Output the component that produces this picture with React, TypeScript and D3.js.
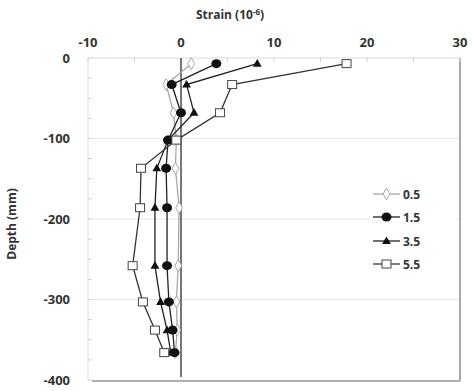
import React from "react";
import * as d3 from "d3";

// Depths of the gauge positions (mm) and strains per load level (10^-6)
const depths = [-7, -33, -68, -102, -137, -186, -258, -303, -338, -366];
const seriesNames = ["0.5", "1.5", "3.5", "5.5"];
const strain05 = [1.1, -1.6, -0.8, -0.5, -0.6, -0.2, -0.3, -0.5, -0.4, -0.6];
const strain15 = [3.8, -1.0, 0.0, -1.4, -1.6, -1.5, -1.5, -1.3, -0.9, -0.7];
const strain35 = [8.2, 0.6, 1.4, -1.4, -2.6, -2.8, -2.8, -2.2, -1.5, -1.1];
const strain55 = [17.8, 5.5, 4.2, -0.5, -4.3, -4.4, -5.2, -4.1, -2.8, -1.8];
const xTicks = [-10, 0, 10, 20, 30];
const yTicks = [0, -100, -200, -300, -400];

const W = 472;
const H = 391;
const plot = { left: 88, right: 460, top: 58, bottom: 380 };

const font = "'Open Sans', 'Liberation Sans', Arial, sans-serif";

function Marker({ kind, x, y, color }: { kind: string; x: number; y: number; color: string }) {
  if (kind === "diamond") {
    const p = d3.symbol(d3.symbolDiamond, 40)();
    return <path d={p || ""} transform={`translate(${x},${y})`} fill="#fff" stroke={color} strokeWidth={1} />;
  }
  if (kind === "circle") {
    return <ellipse cx={x} cy={y} rx={5} ry={4.5} fill="#111" />;
  }
  if (kind === "triangle") {
    const p = d3.symbol(d3.symbolTriangle, 34)();
    return <path d={p || ""} transform={`translate(${x},${y + 0.5})`} fill="#111" />;
  }
  return <rect x={x - 4.5} y={y - 4} width={9} height={8} fill="#fff" stroke="#444" strokeWidth={1} />;
}

export default function App() {
  const x = d3.scaleLinear().domain([-10, 30]).range([plot.left, plot.right]);
  const y = d3.scaleLinear().domain([0, -400]).range([plot.top, plot.bottom]);

  const series = [
    { name: seriesNames[0], values: strain05, kind: "diamond", color: "#a8a8a8" },
    { name: seriesNames[1], values: strain15, kind: "circle", color: "#222" },
    { name: seriesNames[2], values: strain35, kind: "triangle", color: "#222" },
    { name: seriesNames[3], values: strain55, kind: "square", color: "#333" },
  ];

  const line = d3
    .line<[number, number]>()
    .x((d) => x(d[0]))
    .y((d) => y(d[1]));

  const minorX = d3.range(-10, 30.01, 5);
  const minorY = d3.range(0, -400.01, -25);

  const legendX = 373;
  const legendY = [194, 217, 241, 264];

  return (
    <svg width={W} height={H} style={{ position: "absolute", left: 0, top: 0 }}>
      <rect width={W} height={H} fill="#fff" />
      {/* gridlines */}
      {[-100, -200, -300].map((v) => (
        <line key={v} x1={plot.left} x2={plot.right} y1={y(v)} y2={y(v)} stroke="#e6e6e6" strokeWidth={1} />
      ))}
      {/* frame */}
      <line x1={plot.left} x2={plot.right} y1={plot.top} y2={plot.top} stroke="#dcdcdc" strokeWidth={1} />
      <line x1={plot.left} x2={plot.left} y1={plot.top} y2={plot.bottom} stroke="#dcdcdc" strokeWidth={1} />
      <line x1={plot.right} x2={plot.right} y1={plot.top} y2={plot.bottom + 1} stroke="#a8a8a8" strokeWidth={2} />
      <line x1={plot.left + 4} x2={plot.right} y1={plot.bottom + 1} y2={plot.bottom + 1} stroke="#b0b0b0" strokeWidth={2} />
      {/* minor ticks */}
      {minorX.map((v) => (
        <line key={`mx${v}`} x1={x(v)} x2={x(v)} y1={plot.top} y2={plot.top + 4} stroke="#d0d0d0" />
      ))}
      {minorY.map((v) => (
        <line key={`my${v}`} x1={plot.left} x2={plot.left + 4} y1={y(v)} y2={y(v)} stroke="#d0d0d0" />
      ))}
      {/* zero strain axis */}
      <line x1={x(0)} x2={x(0)} y1={plot.top} y2={plot.bottom - 3} stroke="#555" strokeWidth={1.6} />

      {/* tick labels */}
      {xTicks.map((v) => (
        <text key={`xt${v}`} x={x(v)} y={47} textAnchor="middle" fontFamily={font} fontWeight={700} fontSize={13} fill="#333">
          {v}
        </text>
      ))}
      {yTicks.map((v) => (
        <text key={`yt${v}`} x={70} y={y(v) + 4.5} textAnchor="end" fontFamily={font} fontWeight={700} fontSize={13} fill="#333">
          {v}
        </text>
      ))}

      {/* axis titles */}
      <text x={230} y={19} textAnchor="middle" fontFamily={font} fontWeight={700} fontSize={12} fill="#333">
        Strain (10
        <tspan dy={-4} fontSize={8}>-6</tspan>
        <tspan dy={4}>)</tspan>
      </text>
      <text
        transform={`translate(16,224) rotate(-90)`}
        textAnchor="middle"
        fontFamily={font}
        fontWeight={700}
        fontSize={12}
        fill="#333"
      >
        Depth (mm)
      </text>

      {/* series */}
      {series.map((s) => {
        const pts: [number, number][] = s.values.map((v, i) => [v, depths[i]]);
        return (
          <g key={s.name}>
            <path d={line(pts) || ""} fill="none" stroke={s.color} strokeWidth={1.3} />
            {pts.map((p, i) => (
              <Marker key={i} kind={s.kind} x={x(p[0])} y={y(p[1])} color={s.color} />
            ))}
          </g>
        );
      })}

      {/* legend */}
      <rect x={legendX - 3} y={182} width={86} height={94} fill="#fff" />
      {series.map((s, i) => (
        <g key={`lg${s.name}`}>
          <line x1={legendX} x2={legendX + 27} y1={legendY[i]} y2={legendY[i]} stroke={s.color} strokeWidth={1.3} />
          <Marker kind={s.kind} x={legendX + 13.5} y={legendY[i]} color={s.color} />
          <text x={legendX + 30} y={legendY[i] + 4.5} fontFamily={font} fontWeight={700} fontSize={12} fill="#333">
            {s.name}
          </text>
        </g>
      ))}
    </svg>
  );
}
